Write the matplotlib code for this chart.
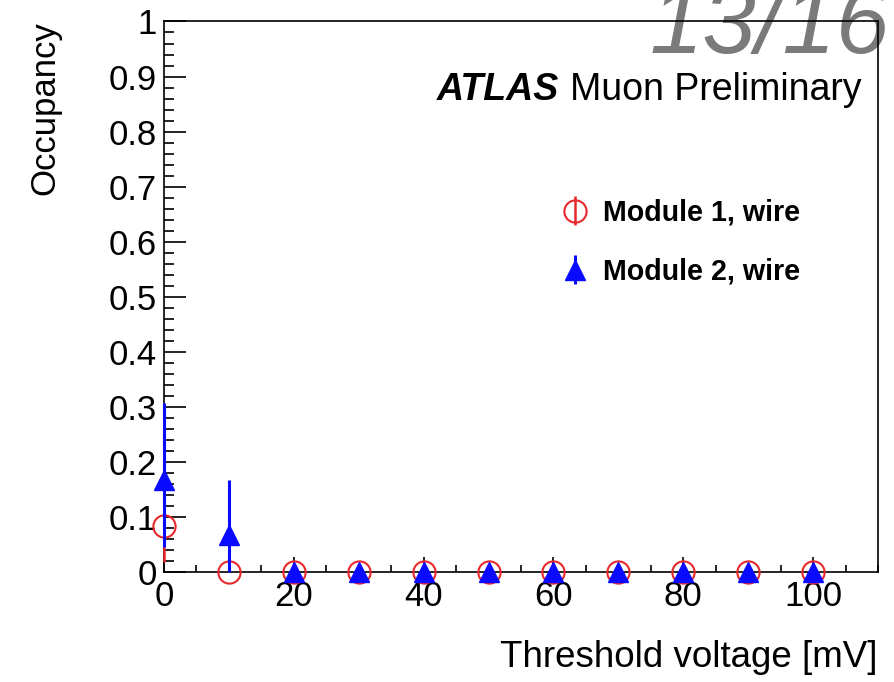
import numpy as np
import matplotlib
matplotlib.use("Agg")
import matplotlib.pyplot as plt
from matplotlib.ticker import MultipleLocator, FuncFormatter

plt.rcParams['font.family'] = ['Liberation Sans', 'DejaVu Sans']

# threshold scan values [mV]
threshold = [0, 10, 20, 30, 40, 50, 60, 70, 80, 90, 100]

# Module 1, wire
occ_m1 = [0.083, 0.0, 0, 0, 0, 0, 0, 0, 0, 0, 0]
err_m1 = [0.065, 0.0, 0, 0, 0, 0, 0, 0, 0, 0, 0]

# Module 2, wire
occ_m2 = [0.167, 0.067, 0, 0, 0, 0, 0, 0, 0, 0, 0]
err_lo_m2 = [0.122, 0.067, 0, 0, 0, 0, 0, 0, 0, 0, 0]
err_hi_m2 = [0.140, 0.100, 0, 0, 0, 0, 0, 0, 0, 0, 0]

fig = plt.figure(figsize=(8.94, 6.82), dpi=100)
ax = fig.add_axes([0.1834, 0.1613, 0.7987, 0.8072])
ax.patch.set_visible(False)

ax.errorbar(threshold, occ_m1, yerr=err_m1, fmt='o', mfc='none', mec='#e8282b',
            ecolor='#e8282b', mew=1.5, ms=16, elinewidth=1.8, capsize=0,
            clip_on=False, zorder=3, label='Module 1, wire')
ax.errorbar(threshold, occ_m2, yerr=[err_lo_m2, err_hi_m2], fmt='^', color='#0a0aff',
            mec='#0a0aff', ms=15, elinewidth=2.2, capsize=0, clip_on=False,
            zorder=4, label='Module 2, wire')

ax.set_xlim(0, 110)
ax.set_ylim(0, 1)

ax.xaxis.set_major_locator(MultipleLocator(20))
ax.xaxis.set_minor_locator(MultipleLocator(5))
ax.yaxis.set_major_locator(MultipleLocator(0.1))
ax.yaxis.set_minor_locator(MultipleLocator(0.02))
ax.yaxis.set_major_formatter(FuncFormatter(lambda v, p: f"{v:.1f}".rstrip('0').rstrip('.') if v else "0"))

ax.tick_params(axis='both', which='both', direction='in', top=False, right=False, colors='black')
ax.tick_params(axis='y', which='major', length=16, width=1.2, labelsize=25, pad=5)
ax.tick_params(axis='y', which='minor', length=7.5, width=1.2)
ax.tick_params(axis='x', which='major', length=11, width=1.2, labelsize=25, pad=6)
ax.tick_params(axis='x', which='minor', length=5, width=1.2)
for s in ax.spines.values():
    s.set_linewidth(1.2)

fig.text(0.050, 0.9685, 'Occupancy', rotation=90, ha='center', va='top', fontsize=25)
fig.text(0.982, 0.022, 'Threshold voltage [mV]', ha='right', va='baseline', fontsize=26.5)

ax.text(0.382, 0.858, 'ATLAS', transform=ax.transAxes, fontsize=27,
        fontweight='bold', style='italic', va='baseline')
ax.text(0.569, 0.858, 'Muon Preliminary', transform=ax.transAxes, fontsize=27, va='baseline')

leg = ax.legend(loc='upper left', bbox_to_anchor=(0.556, 0.678), frameon=False,
                prop={'weight': 'bold', 'size': 20.6}, handlelength=1.0,
                handletextpad=0.48, labelspacing=1.08, borderaxespad=0, borderpad=0)

fig.text(0.995, 0.922, '13/16', ha='right', va='baseline', fontsize=69,
         color='#7a7a7a', style='italic', zorder=-1)

fig.savefig('out.png', dpi=100)
